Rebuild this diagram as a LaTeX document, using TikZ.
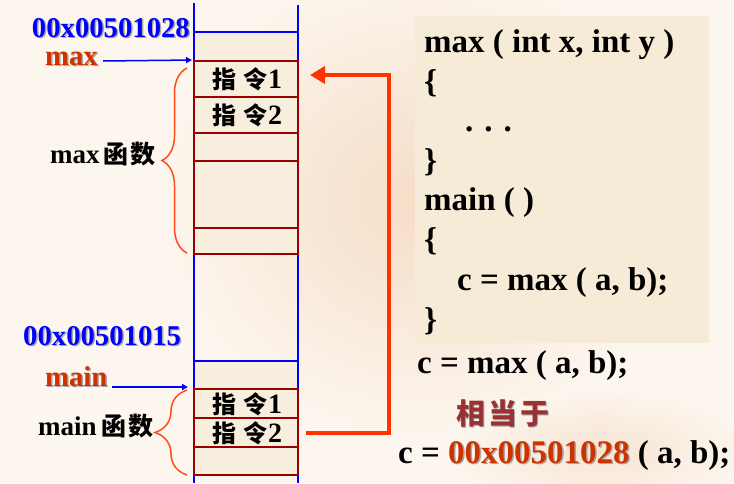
\documentclass[tikz,border=0pt]{standalone}
\usepackage{fontspec}
\setmainfont{Liberation Serif}
\newfontfamily\cjk{Noto Sans CJK SC}
\usetikzlibrary{arrows.meta,decorations.pathreplacing,calc}
\definecolor{bgcol}{HTML}{FCF6EE}
\definecolor{rosepeach}{HTML}{F3D5BA}
\definecolor{codefill}{HTML}{F6EBD6}
\definecolor{cellfill}{HTML}{F8EEDD}
\definecolor{addrblue}{HTML}{0000FF}
\definecolor{labred}{HTML}{CC3300}
\definecolor{cellred}{HTML}{990000}
\definecolor{arrred}{HTML}{FF3300}
\definecolor{bracered}{HTML}{FF4D1A}
\definecolor{xdycol}{HTML}{993333}
\definecolor{shadowcol}{HTML}{A8A8A8}
\newcommand\fsz[1]{\fontsize{#1}{#1}\selectfont}
\newcommand\shtxt[2]{\makebox[0pt][l]{\raisebox{-1.5pt}{\hspace{1.5pt}\textcolor{shadowcol}{#2}}}\textcolor{#1}{#2}}
\newcommand\zl[1]{{\cjk\fsz{24}指}\hspace{8pt}{\cjk\fsz{24}令}{\fsz{28}#1}}
\tikzset{
  memcell/.style={draw=cellred, line width=2pt, fill=cellfill, minimum width=104pt, inner sep=0pt},
  blueln/.style={draw=addrblue, line width=2pt},
  lbl/.style={inner sep=0pt, font=\bfseries\fsz{28.7}},
  fnl/.style={inner sep=0pt, anchor=base west, font=\bfseries\fsz{27}},
  celltxt/.style={inner sep=0pt, anchor=base, font=\bfseries},
  codeln/.style={inner sep=0pt, anchor=base west, font=\bfseries\fsz{33}},
  bluearr/.style={draw=addrblue, line width=1.5pt, -{Triangle[length=6pt,width=6pt]}},
  redarr/.style={draw=arrred, line width=4pt, -{Triangle[length=15pt,width=17pt]}},
  bracestyle/.style={draw=bracered, line width=1.5pt, decorate}
}
\begin{document}
\begin{tikzpicture}[x=1pt,y=-1pt]
\useasboundingbox (0,0) rectangle (734,483);
% background
\fill[bgcol] (0,0) rectangle (734,483);
\shade[inner color=rosepeach!75!bgcol, outer color=bgcol] (420,200) ellipse (260pt and 240pt);
\shade[inner color=rosepeach!55!bgcol, outer color=bgcol] (600,450) ellipse (150pt and 60pt);
% code box
\node[fill=codefill, minimum width=294pt, minimum height=327pt, anchor=north west, inner sep=0pt] (codebox) at (415,16) {};
% memory column
\fill[cellfill] (194,32) rectangle (298,61);
\fill[cellfill] (194,361) rectangle (298,389);
\draw[blueln] (194,3) -- (194,483);
\draw[blueln] (298,5) -- (298,483);
\draw[blueln] (194,32) -- (298,32);
\draw[blueln] (194,361) -- (298,361);
\node[memcell, minimum height=36pt] (mx1) at (246,79) {};
\node[memcell, minimum height=36pt] (mx2) at (246,115) {};
\node[memcell, minimum height=28pt] (mx3) at (246,147) {};
\node[memcell, minimum height=67pt] (mx4) at (246,194.5) {};
\node[memcell, minimum height=26pt] (mx5) at (246,241) {};
\node[memcell, minimum height=29pt] (mn1) at (246,403.5) {};
\node[memcell, minimum height=29pt] (mn2) at (246,432.5) {};
\node[memcell, minimum height=28pt] (mn3) at (246,461) {};
\node[celltxt] (mx1t) at (247,88) {\zl{1}};
\node[celltxt] (mx2t) at (247,124) {\zl{2}};
\node[celltxt] (mn1t) at (247,413) {\zl{1}};
\node[celltxt] (mn2t) at (247,442) {\zl{2}};
% labels
\node[lbl, anchor=base east] (addrmax) at (190,37) {\shtxt{addrblue}{00x00501028}};
\node[lbl, anchor=base west] (maxname) at (45,65) {\shtxt{labred}{max}};
\node[lbl, anchor=base west] (addrmain) at (23,345) {\shtxt{addrblue}{00x00501015}};
\node[lbl, anchor=base west] (mainname) at (45,386) {\shtxt{labred}{main}};
\node[fnl] (maxfn) at (50,163) {max\hspace{4pt}{\cjk\fsz{25}函\hspace{2pt}数}};
\node[fnl] (mainfn) at (38,435) {main\hspace{5pt}{\cjk\fsz{25}函\hspace{2pt}数}};
% braces
\coordinate (bxt) at (187,68);
\coordinate (bxb) at (187,253);
\coordinate (bnt) at (187,390);
\coordinate (bnb) at (187,475);
\draw[bracestyle, decoration={brace, amplitude=25pt}] (bxb) -- (bxt);
\draw[bracestyle, decoration={brace, amplitude=32pt}] (bnb) -- (bnt);
% blue pointer arrows
\coordinate (maxfrom) at (103,61);
\coordinate (mainfrom) at (112,387);
\coordinate (mainto) at (188,387);
\draw[bluearr, shorten >=1pt] (maxfrom) -- (mx1.north west);
\draw[bluearr] (mainfrom) -- (mainto);
% red call arrow
\coordinate (rs) at (306,433);
\coordinate (re) at (310,75);
\draw[redarr] (rs) -- ++(83,0) |- (re);
% code
\node[codeln] (c1) at (424,52) {max ( int x, int y )};
\node[codeln] (c2) at (424,92) {\{};
\node[codeln] (c3) at (465,131) {. . .};
\node[codeln] (c4) at (424,171) {\}};
\node[codeln] (c5) at (424,210) {main ( )};
\node[codeln] (c6) at (424,250) {\{};
\node[codeln] (c7) at (457,290) {c = max ( a, b);};
\node[codeln] (c8) at (424,330) {\}};
\node[codeln] (call) at (417,373) {c = max ( a, b);};
\node[inner sep=0pt, anchor=base west, font=\cjk\bfseries\fsz{29}] (xdy) at (456,424) {\shtxt{xdycol}{相\hspace{3pt}当\hspace{3pt}于}};
\node[codeln] (eqv) at (398,463) {c = \shtxt{labred}{00x00501028} ( a, b);};
\end{tikzpicture}
\end{document}
